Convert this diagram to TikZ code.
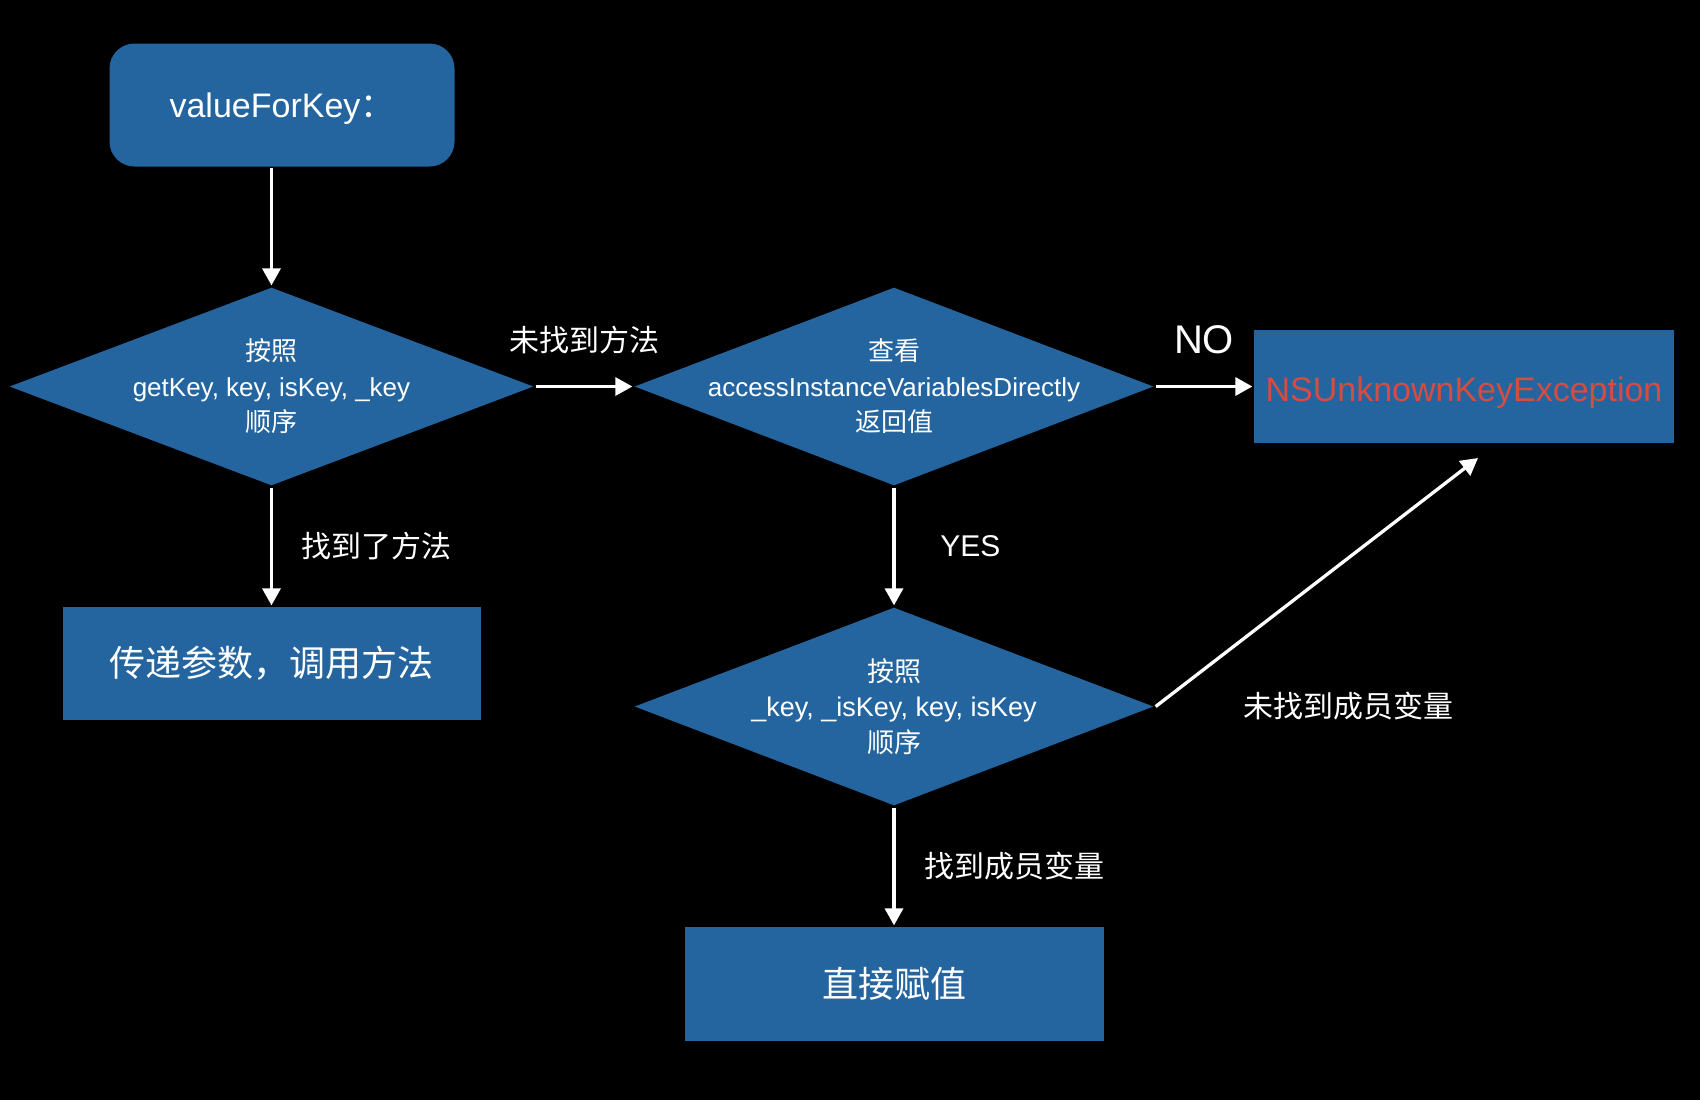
\documentclass[tikz,border=0pt]{standalone}
\usepackage{fontspec}
\setmainfont{Liberation Sans}
\newfontfamily\cjk{Noto Sans CJK SC}
\usepackage{tikz}
\usetikzlibrary{arrows.meta,shapes.geometric,positioning}
\definecolor{boxblue}{RGB}{36,101,160}
\definecolor{excred}{RGB}{214,76,64}

\begin{document}
\begin{tikzpicture}[x=0.5pt, y=-0.5pt, ->, >={Triangle[length=8.5pt,width=9pt]}, line width=1.65pt, white,
	startbox/.style={rectangle, fill=boxblue, rounded corners=12.5pt, minimum width=172.5pt, minimum height=61.5pt, text height=12pt, text depth=0pt, font=\fontsize{17pt}{20pt}\selectfont},
	plainbox/.style={rectangle, fill=boxblue, minimum width=209pt, minimum height=56.5pt, font=\cjk\fontsize{18pt}{21pt}\selectfont},
	decision/.style={diamond, fill=boxblue, inner sep=0pt, minimum width=260pt, minimum height=99.5pt},
	dtext/.style={text=white, align=center, font=\fontsize{13pt}{17.75pt}\selectfont},
	elabel/.style={text=white, font=\cjk\fontsize{15pt}{18pt}\selectfont}]

	\path[fill=black, use as bounding box] (0,0) rectangle (1700,1100);

	\node[startbox]          (VFK)    at (282,105)     {valueForKey{\cjk ：}};
	\node[decision, minimum width=262.5pt,
		label={[dtext]center:{\cjk 按照}\\getKey, key, isKey, \_key\\{\cjk 顺序}}]
		(SEARCH) at (271.5,386.5) {};
	\node[decision,
		label={[dtext]center:{\cjk 查看}\\accessInstanceVariablesDirectly\\{\cjk 返回值}}]
		(ACCESS) at (894,386.5) {};
	\node[plainbox, text=excred, font=\fontsize{17pt}{20pt}\selectfont, text height=15pt, text depth=0pt, minimum width=210pt] (EXC) at (1464,386.5) {NSUnknownKeyException};
	\node[plainbox]          (CALL)   at (271.5,663.5) {传递参数，调用方法};
	\node[decision,
		label={[dtext, font=\fontsize{13.5pt}{17.75pt}\selectfont]center:{\cjk 按照}\\\_key, \_isKey, key, isKey\\{\cjk 顺序}}]
		(IVAR) at (894,706.5) {};
	\node[plainbox, minimum width=209.5pt, minimum height=57pt] (SET) at (894,984) {直接赋值};
	\coordinate (EXCIN) at (1478,458);

	\path	(VFK.south -| SEARCH.north)	edge	(SEARCH.north)
			(SEARCH)	edge	node[elabel, midway, above=12pt]	{未找到方法}	(ACCESS)
			(ACCESS)	edge	node[midway, above=12pt, font=\fontsize{20pt}{24pt}\selectfont]	{NO}	(EXC)
			(SEARCH)	edge	node[elabel, midway, right=11pt]	{找到了方法}	(CALL)
			(ACCESS)	edge	node[midway, right=19pt, font=\fontsize{15pt}{18pt}\selectfont]	{YES}	(IVAR)
			(IVAR)		edge	node[elabel, midway, right=11pt]	{找到成员变量}	(SET)
			(IVAR.east)	edge	node[elabel, pos=0, anchor=west, xshift=40pt]	{未找到成员变量}	(EXCIN);

\end{tikzpicture}
\end{document}
